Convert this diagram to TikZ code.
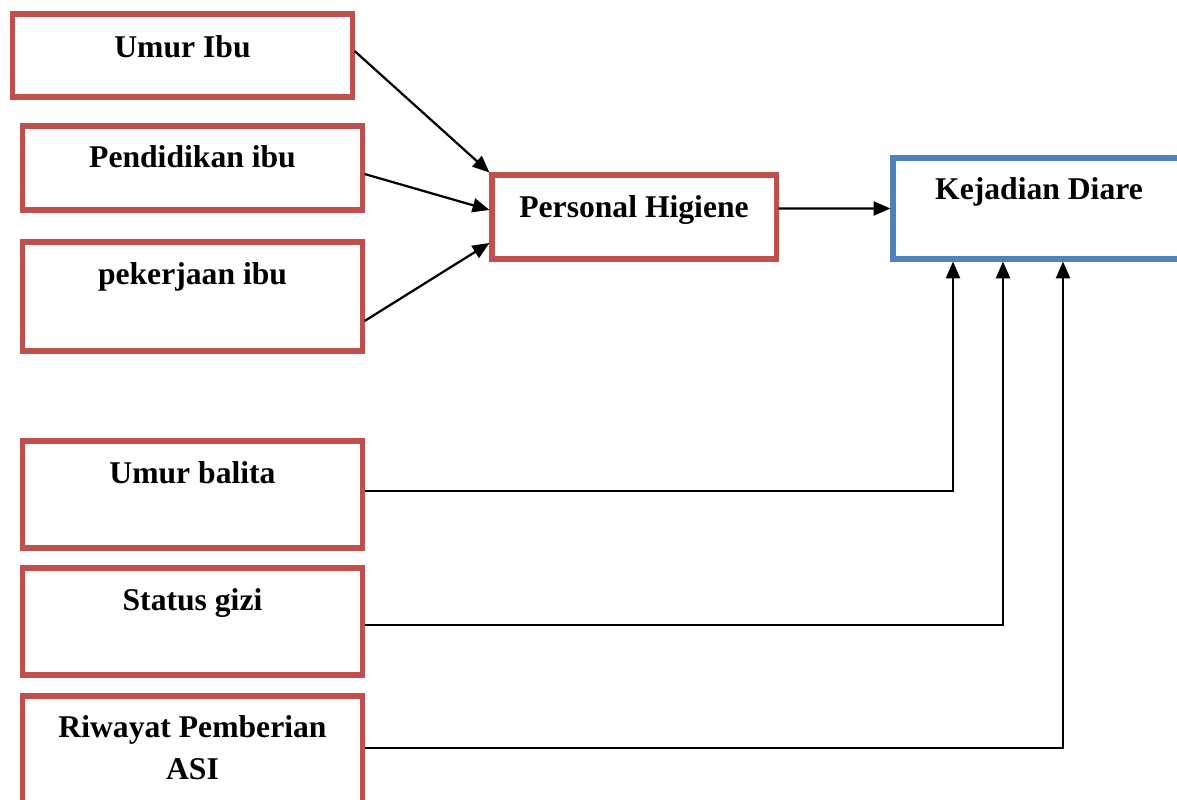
\documentclass[tikz,border=0pt]{standalone}
\usepackage{fontspec}
\setmainfont{Liberation Serif}
\usetikzlibrary{arrows.meta}
\usetikzlibrary{calc}
\definecolor{merah}{HTML}{C0504D}
\definecolor{biru}{HTML}{4F81BD}

\begin{document}
\begin{tikzpicture}[x=0.025cm,y=-0.025cm,
  kotak/.style={rectangle,draw=merah,line width=3.6pt,minimum width=8.475cm,inner sep=0pt},
  teks/.style={font=\fontsize{22.5pt}{30.5pt}\selectfont\bfseries,inner sep=0pt,anchor=base,align=center},
  panah/.style={line width=1.6pt,-{Triangle[length=12pt,width=10pt]}}]
\useasboundingbox (0,0) rectangle (1177,800);
\clip (0,0) rectangle (1177,800);

% kotak faktor
\node[kotak,minimum height=2.075cm] (umur) at (182.5,55.5) {};
\node[kotak,minimum height=2.1cm] (didik) at (192.5,168) {};
\node[kotak,minimum height=2.725cm] (kerja) at (192.5,296.5) {};
\node[kotak,minimum width=7.1cm,minimum height=2.1cm] (ph) at (634,217) {};
\node[kotak,draw=biru,minimum width=7.175cm,minimum height=2.525cm] (kd) at (1036.5,208.5) {};
\node[kotak,minimum height=2.675cm] (balita) at (192.5,494.5) {};
\node[kotak,minimum height=2.675cm] (gizi) at (192.5,621.5) {};
\node[kotak,minimum height=3.35cm] (asi) at (192.5,763) {};

% teks
\node[teks] (t-umur) at ($(umur.north)+(0,46)$) {Umur Ibu};
\node[teks] (t-didik) at ($(didik.north)+(0,44.5)$) {Pendidikan ibu};
\node[teks] (t-kerja) at ($(kerja.north)+(0,45.5)$) {pekerjaan ibu};
\node[teks] (t-ph) at ($(ph.north)+(0,45.5)$) {Personal Higiene};
\node[teks] (t-kd) at ($(kd.north)+(2.5,44.5)$) {Kejadian Diare};
\node[teks] (t-balita) at ($(balita.north)+(0,45.5)$) {Umur balita};
\node[teks] (t-gizi) at ($(gizi.north)+(0,45.5)$) {Status gizi};
\node[teks] (t-asi) at ($(asi.north)+(0,86.5)$) {Riwayat Pemberian\\ASI};

% panah
\draw[panah] ($(umur.east)+(0,-4.5)$) -- (ph.north west);
\draw[panah] ($(didik.east)+(0,6)$) -- ($(ph.west)+(0,-7)$);
\draw[panah] ($(kerja.east)+(0,24.5)$) -- ($(ph.west)+(0,26)$);
\draw[panah] ($(ph.east)+(0,-8.5)$) -- (kd.west);
\draw[panah] ($(balita.east)+(0,-3.5)$) -| ($(kd.south)+(-83.5,0)$);
\draw[panah] ($(gizi.east)+(0,3.5)$) -| ($(kd.south)+(-33.5,0)$);
\draw[panah] ($(asi.east)+(0,-15)$) -| ($(kd.south)+(26.5,0)$);

\end{tikzpicture}
\end{document}
